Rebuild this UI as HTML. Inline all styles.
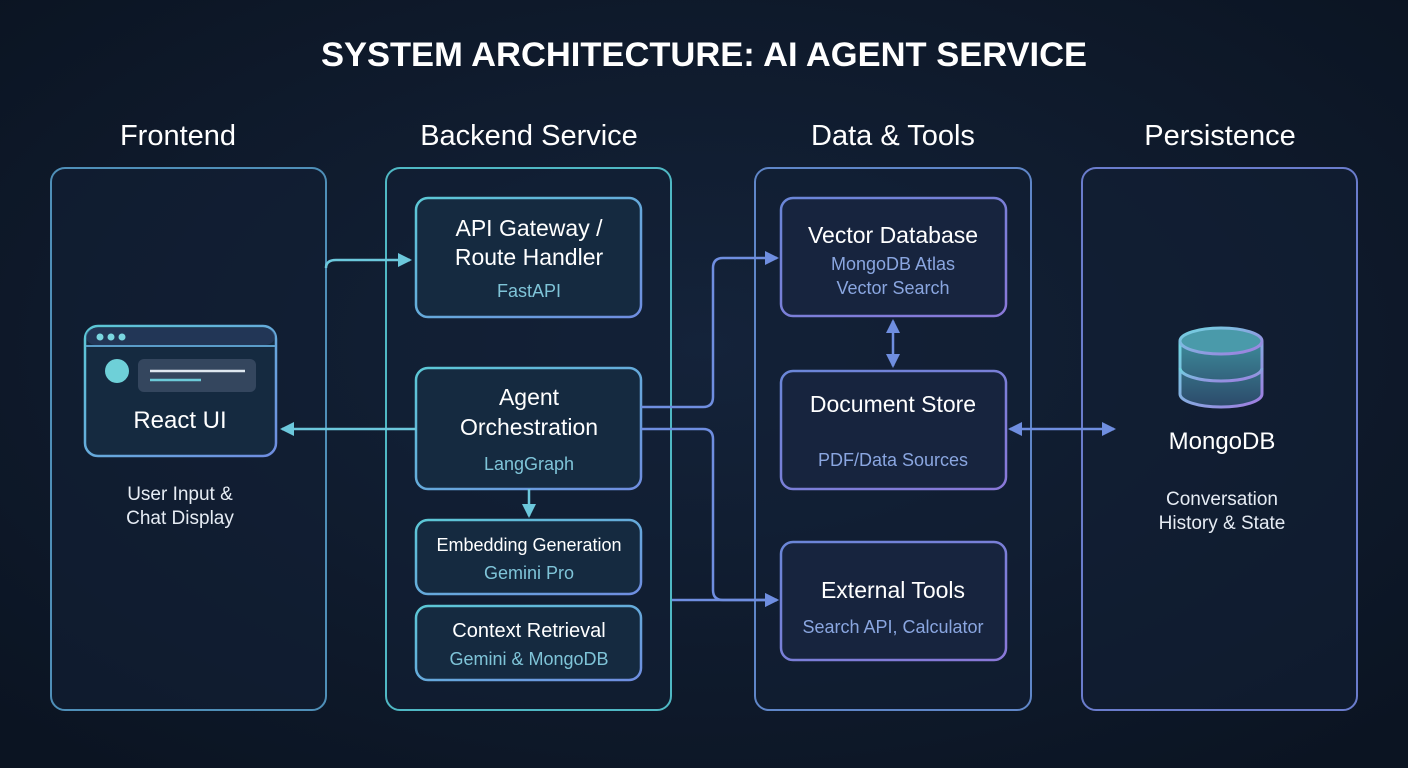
<!DOCTYPE html>
<html><head><meta charset="utf-8"><style>
html,body{margin:0;padding:0;background:#0e1828;}
svg{display:block}
text{font-family:"Liberation Sans",sans-serif;}
</style></head><body>
<svg width="1408" height="768" viewBox="0 0 1408 768" xmlns="http://www.w3.org/2000/svg">
<defs>
<radialGradient id="bg" cx="50%" cy="45%" r="70%">
<stop offset="0" stop-color="#14233a"/><stop offset="1" stop-color="#0b1422"/></radialGradient>
<linearGradient id="gc" x1="0" y1="0" x2="1" y2="1"><stop offset="0" stop-color="#5cc8d6"/><stop offset="1" stop-color="#6f8de0"/></linearGradient>
<linearGradient id="gp" x1="0" y1="0" x2="1" y2="1"><stop offset="0" stop-color="#6a86d8"/><stop offset="1" stop-color="#8a78d8"/></linearGradient>
<linearGradient id="db" x1="0" y1="0" x2="1" y2="1"><stop offset="0" stop-color="#6fd6e0"/><stop offset="1" stop-color="#a07ae0"/></linearGradient>
<linearGradient id="dbf" x1="0" y1="0" x2="0" y2="1"><stop offset="0" stop-color="#3d8a9a"/><stop offset="1" stop-color="#2c4a6a"/></linearGradient>
<marker id="ab" markerWidth="14" markerHeight="14" refX="12" refY="7" orient="auto-start-reverse" markerUnits="userSpaceOnUse"><path d="M0,0 L14,7 L0,14 z" fill="#6f8ee0"/></marker>
<marker id="acl" markerWidth="14" markerHeight="14" refX="12" refY="7" orient="auto-start-reverse" markerUnits="userSpaceOnUse"><path d="M0,0 L14,7 L0,14 z" fill="#6cc8dc"/></marker>
</defs>
<rect width="1408" height="768" fill="url(#bg)"/>
<text x="704" y="66" text-anchor="middle" fill="#fff" font-size="34.5" font-weight="bold">SYSTEM ARCHITECTURE: AI AGENT SERVICE</text>
<g fill="#fff" font-size="29" text-anchor="middle">
<text x="178" y="145">Frontend</text><text x="529" y="145">Backend Service</text>
<text x="893" y="145">Data &amp; Tools</text><text x="1220" y="145">Persistence</text></g>
<g fill="#132036" fill-opacity="0.6" stroke-width="2">
<rect x="51" y="168" width="275" height="542" rx="14" stroke="#4f8fb8"/>
<rect x="386" y="168" width="285" height="542" rx="14" stroke="#4fb8c4"/>
<rect x="755" y="168" width="276" height="542" rx="14" stroke="#5f86c8"/>
<rect x="1082" y="168" width="275" height="542" rx="14" stroke="#6a7ccc"/>
</g>
<g fill="#152a40" stroke="url(#gc)" stroke-width="2.5">
<rect x="416" y="198" width="225" height="119" rx="12"/>
<rect x="416" y="368" width="225" height="121" rx="12"/>
<rect x="416" y="520" width="225" height="74" rx="12"/>
<rect x="416" y="606" width="225" height="74" rx="12"/>
<rect x="85" y="326" width="191" height="130" rx="13"/>
</g>
<g fill="#17243e" stroke="url(#gp)" stroke-width="2.5">
<rect x="781" y="198" width="225" height="118" rx="12"/>
<rect x="781" y="371" width="225" height="118" rx="12"/>
<rect x="781" y="542" width="225" height="118" rx="12"/>
</g>
<line x1="86" y1="346" x2="275" y2="346" stroke="#5a9cc8" stroke-width="2"/>
<rect x="86" y="328" width="189" height="17" rx="10" fill="#2b4066" opacity="0.6"/>
<g fill="#7ad6e0"><circle cx="100" cy="337" r="3.5"/><circle cx="111" cy="337" r="3.5"/><circle cx="122" cy="337" r="3.5"/></g>
<circle cx="117" cy="371" r="12" fill="#6ed0d8"/>
<rect x="138" y="359" width="118" height="33" rx="6" fill="#34465e"/>
<line x1="150" y1="371" x2="245" y2="371" stroke="#dfe8f0" stroke-width="2.5"/>
<line x1="150" y1="380" x2="201" y2="380" stroke="#6ccad8" stroke-width="2.5"/>
<text x="180" y="428" fill="#fff" font-size="24" text-anchor="middle">React UI</text>
<g fill="#e6ecf4" font-size="19" text-anchor="middle">
<text x="180" y="500">User Input &amp;</text><text x="180" y="524">Chat Display</text>
<text x="1222" y="505">Conversation</text><text x="1222" y="529">History &amp; State</text></g>
<g fill="#fff" text-anchor="middle">
<text x="529" y="236" font-size="23">API Gateway /</text>
<text x="529" y="265" font-size="23">Route Handler</text>
<text x="529" y="405" font-size="23">Agent</text>
<text x="529" y="435" font-size="23">Orchestration</text>
<text x="529" y="551" font-size="18">Embedding Generation</text>
<text x="529" y="637" font-size="20">Context Retrieval</text>
<text x="893" y="243" font-size="23">Vector Database</text>
<text x="893" y="412" font-size="23">Document Store</text>
<text x="893" y="598" font-size="23">External Tools</text>
<text x="1222" y="449" font-size="24">MongoDB</text>
</g>
<g fill="#7fc4d8" text-anchor="middle" font-size="18">
<text x="529" y="297">FastAPI</text>
<text x="529" y="470">LangGraph</text>
<text x="529" y="579">Gemini Pro</text>
<text x="529" y="665">Gemini &amp; MongoDB</text>
</g>
<g fill="#8aa6e0" text-anchor="middle" font-size="18">
<text x="893" y="270">MongoDB Atlas</text>
<text x="893" y="294">Vector Search</text>
<text x="893" y="466">PDF/Data Sources</text>
<text x="893" y="633">Search API, Calculator</text>
</g>
<g stroke="url(#db)" stroke-width="3" fill="url(#dbf)">
<path d="M1180,341 L1180,394 A41,13 0 0 0 1262,394 L1262,341"/>
<path d="M1180,368 A41,13 0 0 0 1262,368" fill="none"/>
<ellipse cx="1221" cy="341" rx="41" ry="13" fill="#4a9aaa"/>
</g>
<g fill="none" stroke-width="2.5">
<path d="M326,268 Q326,260 336,260 L410,260" stroke="#6cc8dc" marker-end="url(#acl)"/>
<path d="M416,429 L282,429" stroke="#6cc8dc" marker-end="url(#acl)"/>
<path d="M529,489 L529,516" stroke="#6cc8dc" marker-end="url(#acl)"/>
<path d="M641,407 L703,407 Q713,407 713,397 L713,268 Q713,258 723,258 L777,258" stroke="#6f8ee0" marker-end="url(#ab)"/>
<path d="M641,429 L703,429 Q713,429 713,439 L713,590 Q713,600 723,600 L777,600" stroke="#6f8ee0" marker-end="url(#ab)"/>
<path d="M672,600 L777,600" stroke="#6f8ee0" marker-end="url(#ab)"/>
<path d="M893,321 L893,366" stroke="#6f8ee0" marker-start="url(#ab)" marker-end="url(#ab)"/>
<path d="M1010,429 L1114,429" stroke="#6f8ee0" marker-start="url(#ab)" marker-end="url(#ab)"/>
</g>
</svg>
</body></html>
